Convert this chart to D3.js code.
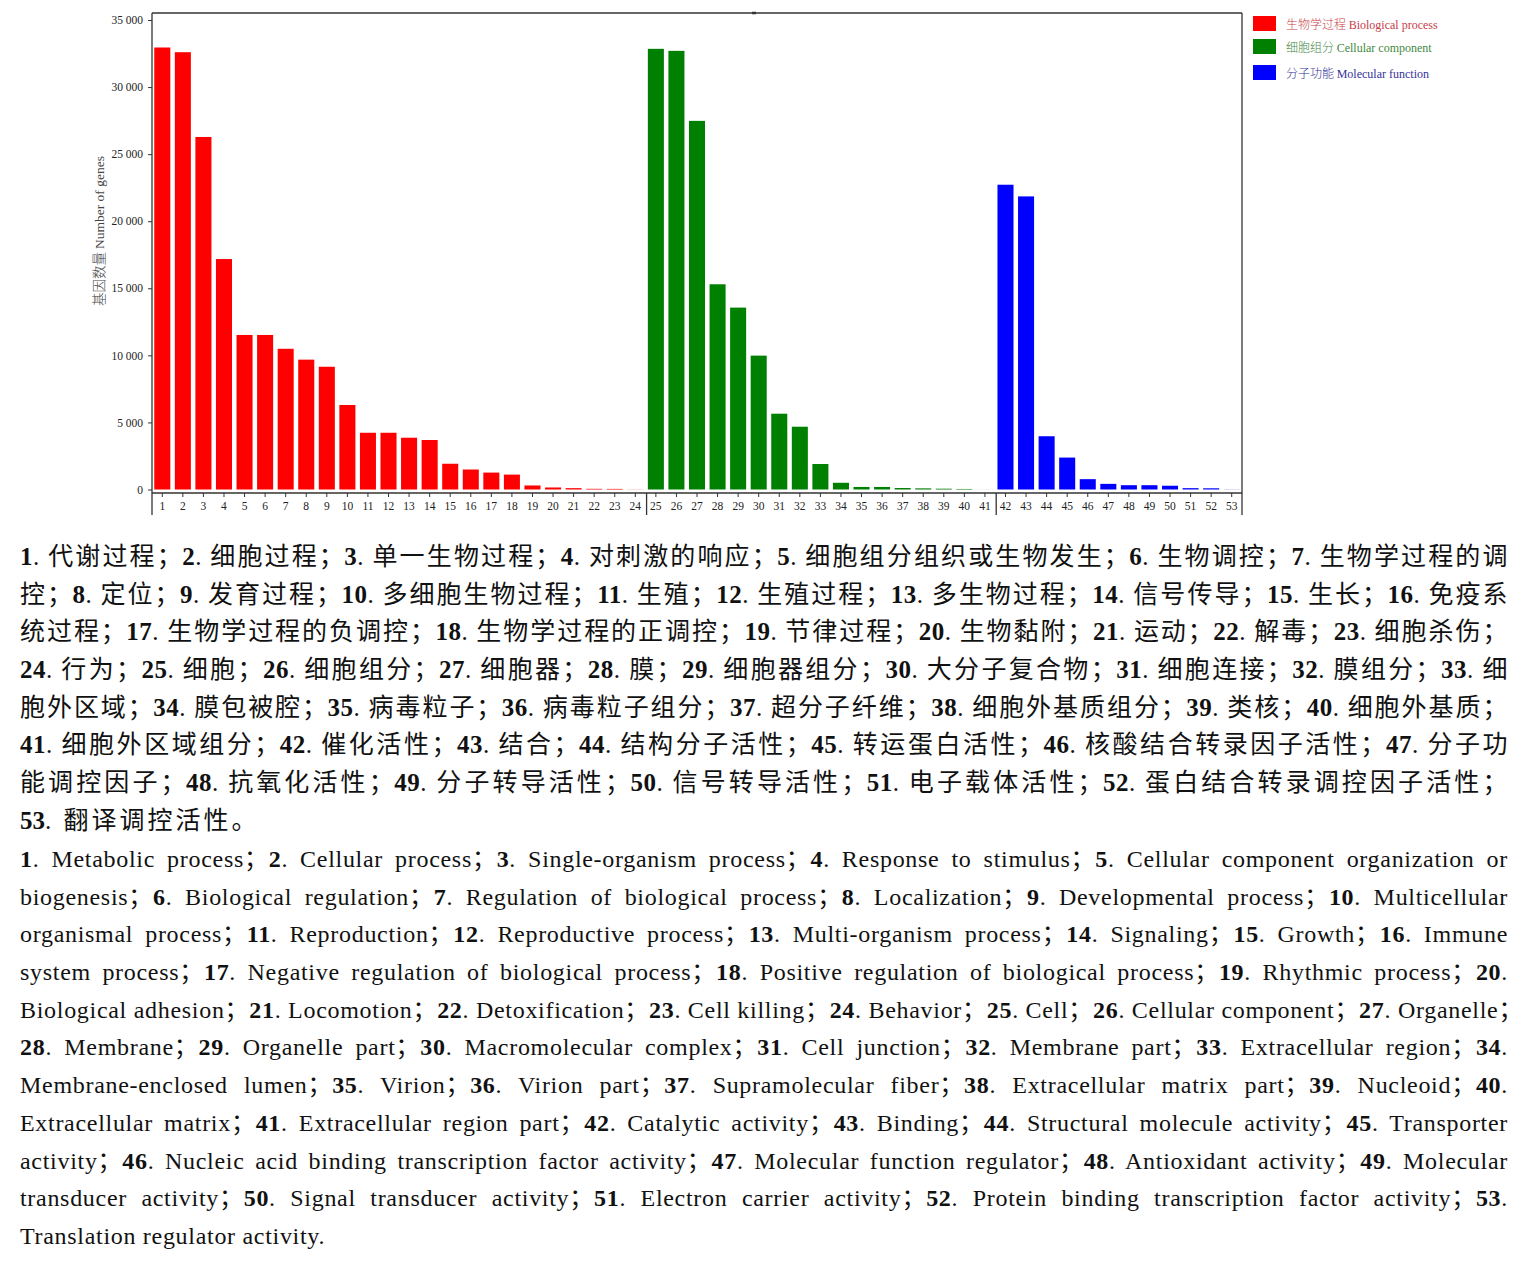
<!DOCTYPE html>
<html><head><meta charset="utf-8">
<script src="https://cdn.jsdelivr.net/npm/d3@7/dist/d3.min.js"></script>
<style>
html,body{margin:0;padding:0;background:#fff}
body{width:1530px;height:1265px;position:relative;overflow:hidden}
#chart{position:absolute;left:0;top:0}
.cap{position:absolute;left:20px;width:1488px}
.ln{height:37.7px;line-height:37.7px;font-family:"Liberation Serif","Noto Sans CJK SC",serif;color:#111;text-align:justify;text-align-last:justify;white-space:nowrap}
#capZh .ln{font-size:25px;letter-spacing:0.5px}
#capZh .ln.last{letter-spacing:3px}
#capZh .ln.last b{letter-spacing:0}
#capEn .ln{font-size:24px;letter-spacing:0.7px}
.ln.last{text-align-last:left}
.ln b{font-weight:bold}
</style></head>
<body>
<svg id="chart" width="1530" height="530"></svg>
<div id="capZh" class="cap" style="top:538px"></div>
<div id="capEn" class="cap" style="top:841px"></div>
<script>
// ---------- data ----------
const groupNames = ["生物学过程 Biological process", "细胞组分 Cellular component", "分子功能 Molecular function"];
const bioValues = [32950, 32600, 26280, 17180, 11520, 11520, 10490, 9680, 9150, 6300, 4230, 4230, 3860, 3690, 1920, 1490, 1260, 1110, 300, 150, 100, 50, 45, 10];
const cellValues = [32850, 32700, 27480, 15300, 13560, 9980, 5650, 4680, 1900, 500, 190, 190, 110, 85, 60, 40, 5];
const molValues = [22720, 21850, 3970, 2380, 770, 420, 320, 320, 280, 100, 90, 10];
const yTicks = [0, 5000, 10000, 15000, 20000, 25000, 30000, 35000];
const termsZh = ["代谢过程","细胞过程","单一生物过程","对刺激的响应","细胞组分组织或生物发生","生物调控","生物学过程的调控","定位","发育过程","多细胞生物过程","生殖","生殖过程","多生物过程","信号传导","生长","免疫系统过程","生物学过程的负调控","生物学过程的正调控","节律过程","生物黏附","运动","解毒","细胞杀伤","行为","细胞","细胞组分","细胞器","膜","细胞器组分","大分子复合物","细胞连接","膜组分","细胞外区域","膜包被腔","病毒粒子","病毒粒子组分","超分子纤维","细胞外基质组分","类核","细胞外基质","细胞外区域组分","催化活性","结合","结构分子活性","转运蛋白活性","核酸结合转录因子活性","分子功能调控因子","抗氧化活性","分子转导活性","信号转导活性","电子载体活性","蛋白结合转录调控因子活性","翻译调控活性"];
const termsEn = ["Metabolic process","Cellular process","Single-organism process","Response to stimulus","Cellular component organization or biogenesis","Biological regulation","Regulation of biological process","Localization","Developmental process","Multicellular organismal process","Reproduction","Reproductive process","Multi-organism process","Signaling","Growth","Immune system process","Negative regulation of biological process","Positive regulation of biological process","Rhythmic process","Biological adhesion","Locomotion","Detoxification","Cell killing","Behavior","Cell","Cellular component","Organelle","Membrane","Organelle part","Macromolecular complex","Cell junction","Membrane part","Extracellular region","Membrane-enclosed lumen","Virion","Virion part","Supramolecular fiber","Extracellular matrix part","Nucleoid","Extracellular matrix","Extracellular region part","Catalytic activity","Binding","Structural molecule activity","Transporter activity","Nucleic acid binding transcription factor activity","Molecular function regulator","Antioxidant activity","Molecular transducer activity","Signal transducer activity","Electron carrier activity","Protein binding transcription factor activity","Translation regulator activity"];
const zhLineStarts = ["控；8.", "统过程；17.", "24. 行为", "胞外区域；34.", "41. 细胞外区域组分", "能调控因子；48.", "53. 翻译"];
const enLineStarts = ["biogenesis；6.", "organismal process；11.", "system process；17.", "Biological adhesion；21.", "28. Membrane；", "Membrane-enclosed lumen；35.", "Extracellular matrix；41.", "activity；46.", "transducer activity；50.", "Translation regulator"];
const groupColors = ["#ff0000", "#008000", "#0000ff"];
const legendTextColors = ["#c8404a", "#3f8a3f", "#34349a"];

// ---------- build ----------
const bars = [];
[bioValues, cellValues, molValues].forEach((arr, g) => arr.forEach(v => bars.push({id: bars.length + 1, v, g})));
const groupEnds = [bioValues.length, bioValues.length + cellValues.length];

const svg = d3.select("#chart");
const x = d3.scaleBand().domain(bars.map(d => d.id)).range([152, 1242]).paddingInner(0.22).paddingOuter(0.11);
const y = d3.scaleLinear().domain([0, 35000]).range([489.5, 20]);
const axisY = 493;

// frame top & right
svg.append("line").attr("x1", 152).attr("x2", 1242).attr("y1", 13).attr("y2", 13).attr("stroke", "#333").attr("stroke-width", 1.3);
svg.append("line").attr("x1", 1242).attr("x2", 1242).attr("y1", 13).attr("y2", 515).attr("stroke", "#333").attr("stroke-width", 1.3);
svg.append("line").attr("x1", 752).attr("x2", 756).attr("y1", 13).attr("y2", 13).attr("stroke", "#333").attr("stroke-width", 2.5);

// bars
svg.append("g").selectAll("rect").data(bars).join("rect")
  .attr("x", d => x(d.id)).attr("width", x.bandwidth())
  .attr("y", d => y(d.v)).attr("height", d => y(0) - y(d.v))
  .attr("fill", d => groupColors[d.g]);

// y axis
const fmt = d => d3.format(",")(d).replace(/,/g, " ");
const yAxis = svg.append("g").attr("transform", "translate(152,0)")
  .call(d3.axisLeft(y).tickValues(yTicks).tickFormat(fmt).tickSize(4).tickPadding(5));
yAxis.select(".domain").remove();
yAxis.selectAll(".tick line").attr("stroke", "#333");
yAxis.selectAll("text").attr("font-family", "Liberation Serif, serif").attr("font-size", 11.5).attr("fill", "#222");
svg.append("line").attr("x1", 152).attr("x2", 152).attr("y1", 13).attr("y2", 515).attr("stroke", "#333").attr("stroke-width", 1.3);

// x axis
const xAxis = svg.append("g").attr("transform", `translate(0,${axisY})`)
  .call(d3.axisBottom(x).tickSize(4).tickPadding(5));
xAxis.select(".domain").attr("d", `M152,0H1242`).attr("stroke", "#333").attr("stroke-width", 1.3);
xAxis.selectAll(".tick line").attr("stroke", "#333");
xAxis.selectAll("text").attr("font-family", "Liberation Serif, serif").attr("font-size", 11.5).attr("fill", "#222");

// group separators
groupEnds.forEach(n => {
  const sx = (x(n) + x.bandwidth() + x(n + 1)) / 2 + 1;
  svg.append("line").attr("x1", sx).attr("x2", sx).attr("y1", axisY).attr("y2", 515).attr("stroke", "#333").attr("stroke-width", 1.3);
});

// y title
const yt = svg.append("text").attr("transform", "translate(104,231) rotate(-90)").attr("text-anchor", "middle")
  .attr("font-size", 13.5).attr("fill", "#444");
yt.append("tspan").attr("font-family", "Noto Sans CJK SC, sans-serif").attr("font-weight", 300).text("基因数量 ");
yt.append("tspan").attr("font-family", "Liberation Serif, serif").text("Number of genes");

// legend
const lg = svg.append("g").attr("transform", "translate(1253,16)");
groupNames.forEach((name, i) => {
  const gy = [0, 23, 49][i];
  lg.append("rect").attr("x", 0).attr("y", gy).attr("width", 23).attr("height", 15).attr("fill", groupColors[i]);
  const parts = name.split(" ");
  const t = lg.append("text").attr("x", 33).attr("y", gy + 13).attr("font-size", 12).attr("fill", legendTextColors[i]);
  t.append("tspan").attr("font-family", "Noto Sans CJK SC, sans-serif").attr("font-weight", 300).text(parts[0] + " ");
  t.append("tspan").attr("font-family", "Liberation Serif, serif").text(parts.slice(1).join(" "));
});

// captions
function buildLines(terms, end, starts) {
  const full = terms.map((t, i) => `${i + 1}. ${t}`).join("；") + end;
  const lines = [];
  let pos = 0;
  starts.forEach(s => {
    const idx = full.indexOf(s, pos + 1);
    lines.push(full.slice(pos, idx).trim());
    pos = idx;
  });
  lines.push(full.slice(pos).trim());
  return lines;
}
function renderCap(sel, lines) {
  d3.select(sel).selectAll("div").data(lines).join("div")
    .attr("class", (d, i) => "ln" + (i === lines.length - 1 ? " last" : ""))
    .html(d => d.replace(/(\d+)\./g, "<b>$1</b>."));
}
renderCap("#capZh", buildLines(termsZh, "。", zhLineStarts));
renderCap("#capEn", buildLines(termsEn, ".", enLineStarts));
</script>
</body></html>
